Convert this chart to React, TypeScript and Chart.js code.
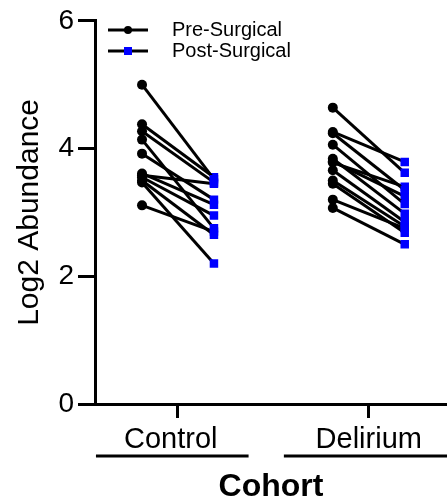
import React, { useEffect, useRef } from 'react';
import { Chart, registerables } from 'chart.js';

Chart.register(...registerables);

const categories = ['Control', 'Delirium'];
const categoryLabels = ['Control\u2002', 'Delirium'];
const seriesLabels = ['Pre-Surgical', 'Post-Surgical'];
const controlPre = [5.0, 4.38, 4.27, 4.14, 3.92, 3.61, 3.55, 3.5, 3.47, 3.58, 3.11];
const controlPost = [3.52, 3.55, 3.47, 2.75, 3.2, 3.12, 2.95, 2.65, 2.2, 3.45, 2.7];
const deliriumPre = [4.64, 4.26, 4.24, 4.06, 3.84, 3.78, 3.66, 3.5, 3.45, 3.2, 3.07, 3.8];
const deliriumPost = [3.62, 3.79, 3.35, 3.13, 2.98, 3.4, 2.85, 2.78, 2.68, 2.75, 2.5, 3.25];
const yTicks = [0, 2, 4, 6];

const FONT = "'Liberation Sans', Arial, Helvetica, sans-serif";
const OFF = 0.1885;
const PRE_COLOR = '#000000';
const POST_COLOR = '#0000ff';

const groups = [
  { pre: controlPre, post: controlPost },
  { pre: deliriumPre, post: deliriumPost },
];

export default function App() {
  const ref = useRef<HTMLCanvasElement | null>(null);

  useEffect(() => {
    document.body.style.margin = '0';
    document.body.style.overflow = 'hidden';
    document.documentElement.style.overflow = 'hidden';
    const canvas = ref.current;
    if (!canvas) return;

    const datasets: any[] = [];
    groups.forEach((g, gi) => {
      g.pre.forEach((v, i) => {
        datasets.push({
          data: [
            { x: gi + 1 - OFF, y: v },
            { x: gi + 1 + OFF, y: g.post[i] },
          ],
          showLine: true,
          borderColor: '#000',
          borderWidth: 3,
          pointStyle: ['circle', 'rect'],
          pointRadius: [5, 6],
          pointBackgroundColor: [PRE_COLOR, POST_COLOR],
          pointBorderColor: [PRE_COLOR, POST_COLOR],
          pointBorderWidth: 0,
        });
      });
    });

    const brackets = [
      [-0.43, 0.37],
      [-0.445, 0.45],
    ];

    const custom = {
      id: 'custom',
      afterDraw(chart: any) {
        const ctx = chart.ctx;
        const xs = chart.scales.x;
        ctx.save();
        ctx.strokeStyle = '#000';
        ctx.lineWidth = 3;
        brackets.forEach((b, i) => {
          ctx.beginPath();
          ctx.moveTo(xs.getPixelForValue(i + 1 + b[0]), 456);
          ctx.lineTo(xs.getPixelForValue(i + 1 + b[1]), 456);
          ctx.stroke();
        });
        const items = [
          { label: seriesLabels[0], y: 30, color: PRE_COLOR, shape: 'circle' },
          { label: seriesLabels[1], y: 51, color: POST_COLOR, shape: 'rect' },
        ];
        items.forEach((it) => {
          ctx.strokeStyle = '#000';
          ctx.lineWidth = 3;
          ctx.beginPath();
          ctx.moveTo(108, it.y);
          ctx.lineTo(148, it.y);
          ctx.stroke();
          ctx.fillStyle = it.color;
          if (it.shape === 'circle') {
            ctx.beginPath();
            ctx.arc(128, it.y, 4, 0, Math.PI * 2);
            ctx.fill();
          } else {
            ctx.fillRect(124, it.y - 4, 8, 8);
          }
          ctx.fillStyle = '#000';
          ctx.font = `20px ${FONT}`;
          ctx.textBaseline = 'middle';
          ctx.textAlign = 'left';
          ctx.fillText(it.label, 172, it.y);
        });
        ctx.restore();
      },
    };

    const chart = new Chart(canvas, {
      type: 'scatter',
      data: { datasets },
      plugins: [custom],
      options: {
        animation: false,
        responsive: true,
        maintainAspectRatio: false,
        layout: { padding: { top: 20, right: 0, left: 0, bottom: 0 } },
        plugins: { legend: { display: false }, tooltip: { enabled: false } },
        scales: {
          x: {
            type: 'linear',
            min: 0.565,
            max: 2.41,
            afterBuildTicks: (s: any) => {
              s.ticks = categories.map((_, i) => ({ value: i + 1 }));
            },
            afterFit: (s: any) => {
              s.height = 97;
            },
            ticks: {
              callback: (v: any) => categoryLabels[Math.round(v) - 1] ?? '',
              font: { family: FONT, size: 29 },
              color: '#000',
              padding: 5,
              autoSkip: false,
              maxRotation: 0,
            },
            grid: {
              display: true,
              drawOnChartArea: false,
              drawTicks: true,
              tickLength: 14,
              lineWidth: 3,
              color: '#000',
            },
            border: { display: true, width: 3, color: '#000' },
            title: {
              display: true,
              text: 'Cohort',
              font: { family: FONT, size: 32, weight: 'bold' },
              color: '#000',
              padding: { top: 0, bottom: -5 },
            },
          },
          y: {
            type: 'linear',
            min: 0,
            max: 6,
            afterBuildTicks: (s: any) => {
              s.ticks = yTicks.map((v) => ({ value: v }));
            },
            afterFit: (s: any) => {
              s.width = 95;
            },
            ticks: {
              font: { family: FONT, size: 28 },
              color: '#000',
              padding: 4,
            },
            grid: {
              display: true,
              drawOnChartArea: false,
              drawTicks: true,
              tickLength: 17,
              lineWidth: 3,
              color: '#000',
            },
            border: { display: true, width: 3, color: '#000' },
            title: {
              display: true,
              text: 'Log2 Abundance',
              font: { family: FONT, size: 30 },
              color: '#000',
              padding: { top: 12, bottom: 0 },
            },
          },
        },
      },
    } as any);

    return () => chart.destroy();
  }, []);

  return (
    <div style={{ position: 'relative', width: 453, height: 501 }}>
      <canvas ref={ref} />
    </div>
  );
}
